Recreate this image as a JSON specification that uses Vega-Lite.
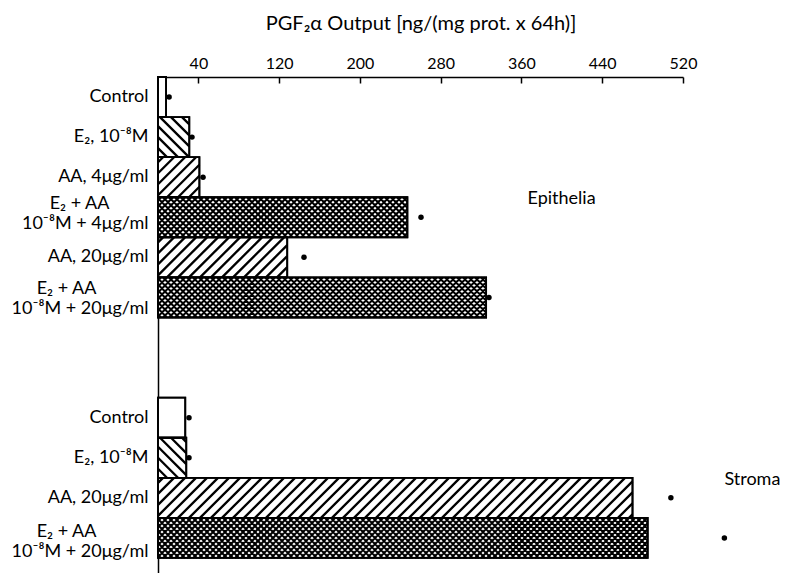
{
  "$schema": "https://vega.github.io/schema/vega-lite/v6.json",
  "width": 525,
  "height": 496,
  "autosize": {"type": "none"},
  "padding": {"left": 158, "top": 77, "right": 102, "bottom": 0},
  "background": "white",
  "config": {
    "view": {"stroke": null},
    "font": "Lato",
    "axis": {"grid": false, "domainColor": "black", "tickColor": "black", "labelColor": "black", "titleColor": "black"}
  },
  "datasets": {
    "bars": [
      {"id": "e1", "tissue": "Epithelia", "treatment": "Control", "value": 8, "dot": 11},
      {"id": "e2", "tissue": "Epithelia", "treatment": "E2 1e-8 M", "value": 31, "dot": 33.7},
      {"id": "e3", "tissue": "Epithelia", "treatment": "AA 4 ug/ml", "value": 41, "dot": 44.6},
      {"id": "e4", "tissue": "Epithelia", "treatment": "E2 + AA 4 ug/ml", "value": 247, "dot": 260.5},
      {"id": "e5", "tissue": "Epithelia", "treatment": "AA 20 ug/ml", "value": 128, "dot": 144.6},
      {"id": "e6", "tissue": "Epithelia", "treatment": "E2 + AA 20 ug/ml", "value": 325, "dot": 327.8},
      {"id": "s1", "tissue": "Stroma", "treatment": "Control", "value": 27, "dot": 30.7},
      {"id": "s2", "tissue": "Stroma", "treatment": "E2 1e-8 M", "value": 28, "dot": 30.7},
      {"id": "s3", "tissue": "Stroma", "treatment": "AA 20 ug/ml", "value": 470, "dot": 508},
      {"id": "s4", "tissue": "Stroma", "treatment": "E2 + AA 20 ug/ml", "value": 485, "dot": 561}
    ],
    "tissues": [
      {"name": "Epithelia", "x": 366, "id": "e4"},
      {"name": "Stroma", "x": 561, "id": "s3"}
    ]
  },
  "layer": [
    {
      "data": {"name": "bars"},
      "mark": {"type": "bar", "fill": "white", "stroke": "black", "strokeWidth": 1.8},
      "encoding": {
        "y": {
          "field": "id", "type": "nominal", "title": null,
          "scale": {"domain": ["e1", "e2", "e3", "e4", "e5", "e6", "g1", "g2", "s1", "s2", "s3", "s4"], "paddingInner": 0, "paddingOuter": 0.1875, "align": 0},
          "axis": {
            "ticks": false, "domainWidth": 1.5, "labelFontSize": 18, "labelPadding": 10, "labelLineHeight": 20, "labelLimit": 0,
            "labelOffset": {"condition": [{"test": "datum.value == 'e4'", "value": -13}, {"test": "datum.value == 'e6'", "value": -8}, {"test": "datum.value == 's4'", "value": -6}], "value": 0},
            "labelExpr": "datum.value == 'e1' || datum.value == 's1' ? 'Control' : datum.value == 'e2' || datum.value == 's2' ? 'E₂, 10⁻⁸M' : datum.value == 'e3' ? 'AA, 4μg/ml' : datum.value == 'e5' || datum.value == 's3' ? 'AA, 20μg/ml' : datum.value == 'e4' ? ['E₂ + AA\u2800\u2800\u2800', '10⁻⁸M + 4μg/ml'] : datum.value == 'e6' || datum.value == 's4' ? ['E₂ + AA\u2800\u2800\u2800\u2800', '10⁻⁸M + 20μg/ml'] : ''"
          }
        },
        "x": {
          "field": "value", "type": "quantitative", "title": "PGF₂α Output [ng/(mg prot. x 64h)]",
          "scale": {"domain": [0, 520], "nice": false},
          "axis": {"orient": "top", "values": [40, 120, 200, 280, 360, 440, 520], "tickSize": -6, "tickWidth": 1.5, "domainWidth": 1.5, "labelFontSize": 16, "labelPadding": 12, "labelFlush": false, "labelOverlap": false, "titleFontSize": 20, "titleFontWeight": "normal", "titlePadding": 22}
        }
      }
    },
    {
      "data": {"name": "bars"},
      "transform": [{"filter": {"field": "id", "oneOf": ["e2", "e3", "e4", "e5", "e6", "s2", "s3", "s4"]}}],
      "mark": {"type": "point", "filled": false, "size": 4, "stroke": "black", "color": "black", "opacity": 1},
      "encoding": {
        "x": {"datum": 0, "type": "quantitative"},
        "y": {"field": "id", "type": "nominal"},
        "strokeWidth": {"condition": {"test": "datum.id == 'e4' || datum.id == 'e6' || datum.id == 's4'", "value": 2.1}, "value": 2.3},
        "shape": {
          "field": "id", "type": "nominal", "legend": null,
          "scale": {
            "domain": ["e2", "e3", "e4", "e5", "e6", "s2", "s3", "s4"],
            "range": [
              "M0,11L9,20M0,0L20,20M0,-11L31,20M2,-20L31.3,9.3M13,-20L31.3,-1.7M24,-20L31.3,-12.7",
              "M5,-20L0,-15M16,-20L0,-4M27,-20L0,7M38,-20L0,18M41.4,-12.4L9,20M41.4,-1.4L20,20M41.4,9.6L31,20",
              "M3,-20L0,-17M9,-20L0,-11M15,-20L0,-5M21,-20L0,1M27,-20L0,7M33,-20L0,13M39,-20L0,19M45,-20l-40,40m46,-40l-40,40m46,-40l-40,40m46,-40l-40,40m46,-40l-40,40m46,-40l-40,40m46,-40l-40,40m46,-40l-40,40m46,-40l-40,40m46,-40l-40,40M105,-20l-40,40m46,-40l-40,40m46,-40l-40,40m46,-40l-40,40m46,-40l-40,40m46,-40l-40,40m46,-40l-40,40m46,-40l-40,40m46,-40l-40,40m46,-40l-40,40M165,-20l-40,40m46,-40l-40,40m46,-40l-40,40m46,-40l-40,40m46,-40l-40,40m46,-40l-40,40m46,-40l-40,40m46,-40l-40,40m46,-40l-40,40m46,-40l-40,40M225,-20l-40,40m46,-40l-40,40m46,-40l-40,40m46,-40l-40,40m46,-40l-40,40M249.4,-14.4L215,20M249.4,-8.4L221,20M249.4,-2.4L227,20M249.4,3.6L233,20M249.4,9.6L239,20M249.4,15.6L245,20M0,17L3,20M0,11L9,20M0,5L15,20M0,-1L21,20M0,-7L27,20M0,-13L33,20M0,-19L39,20M5,-20l40,40m-34,-40l40,40m-34,-40l40,40m-34,-40l40,40m-34,-40l40,40m-34,-40l40,40m-34,-40l40,40m-34,-40l40,40m-34,-40l40,40m-34,-40l40,40M65,-20l40,40m-34,-40l40,40m-34,-40l40,40m-34,-40l40,40m-34,-40l40,40m-34,-40l40,40m-34,-40l40,40m-34,-40l40,40m-34,-40l40,40m-34,-40l40,40M125,-20l40,40m-34,-40l40,40m-34,-40l40,40m-34,-40l40,40m-34,-40l40,40m-34,-40l40,40m-34,-40l40,40m-34,-40l40,40m-34,-40l40,40m-34,-40l40,40M185,-20l40,40m-34,-40l40,40m-34,-40l40,40m-34,-40l40,40m-34,-40l40,40M215,-20L249.4,14.4M221,-20L249.4,8.4M227,-20L249.4,2.4M233,-20L249.4,-3.6M239,-20L249.4,-9.6M245,-20L249.4,-15.6",
              "M5,-20L0,-15M16,-20L0,-4M27,-20L0,7M38,-20L0,18M49,-20l-40,40m51,-40l-40,40m51,-40l-40,40m51,-40l-40,40m51,-40l-40,40m51,-40l-40,40m51,-40l-40,40m51,-40l-40,40M129.2,-12.2L97,20M129.2,-1.2L108,20M129.2,9.8L119,20",
              "M3,-20L0,-17M9,-20L0,-11M15,-20L0,-5M21,-20L0,1M27,-20L0,7M33,-20L0,13M39,-20L0,19M45,-20l-40,40m46,-40l-40,40m46,-40l-40,40m46,-40l-40,40m46,-40l-40,40m46,-40l-40,40m46,-40l-40,40m46,-40l-40,40m46,-40l-40,40m46,-40l-40,40M105,-20l-40,40m46,-40l-40,40m46,-40l-40,40m46,-40l-40,40m46,-40l-40,40m46,-40l-40,40m46,-40l-40,40m46,-40l-40,40m46,-40l-40,40m46,-40l-40,40M165,-20l-40,40m46,-40l-40,40m46,-40l-40,40m46,-40l-40,40m46,-40l-40,40m46,-40l-40,40m46,-40l-40,40m46,-40l-40,40m46,-40l-40,40m46,-40l-40,40M225,-20l-40,40m46,-40l-40,40m46,-40l-40,40m46,-40l-40,40m46,-40l-40,40m46,-40l-40,40m46,-40l-40,40m46,-40l-40,40m46,-40l-40,40m46,-40l-40,40M285,-20l-40,40m46,-40l-40,40m46,-40l-40,40m46,-40l-40,40m46,-40l-40,40m46,-40l-40,40m46,-40l-40,40m46,-40l-40,40M328.1,-15.1L293,20M328.1,-9.1L299,20M328.1,-3.1L305,20M328.1,2.9L311,20M328.1,8.9L317,20M328.1,14.9L323,20M0,17L3,20M0,11L9,20M0,5L15,20M0,-1L21,20M0,-7L27,20M0,-13L33,20M0,-19L39,20M5,-20l40,40m-34,-40l40,40m-34,-40l40,40m-34,-40l40,40m-34,-40l40,40m-34,-40l40,40m-34,-40l40,40m-34,-40l40,40m-34,-40l40,40m-34,-40l40,40M65,-20l40,40m-34,-40l40,40m-34,-40l40,40m-34,-40l40,40m-34,-40l40,40m-34,-40l40,40m-34,-40l40,40m-34,-40l40,40m-34,-40l40,40m-34,-40l40,40M125,-20l40,40m-34,-40l40,40m-34,-40l40,40m-34,-40l40,40m-34,-40l40,40m-34,-40l40,40m-34,-40l40,40m-34,-40l40,40m-34,-40l40,40m-34,-40l40,40M185,-20l40,40m-34,-40l40,40m-34,-40l40,40m-34,-40l40,40m-34,-40l40,40m-34,-40l40,40m-34,-40l40,40m-34,-40l40,40m-34,-40l40,40m-34,-40l40,40M245,-20l40,40m-34,-40l40,40m-34,-40l40,40m-34,-40l40,40m-34,-40l40,40m-34,-40l40,40m-34,-40l40,40m-34,-40l40,40M293,-20L328.1,15.1M299,-20L328.1,9.1M305,-20L328.1,3.1M311,-20L328.1,-2.9M317,-20L328.1,-8.9M323,-20L328.1,-14.9",
              "M0,11L9,20M0,0L20,20M0,-11L28.3,17.3M2,-20L28.3,6.3M13,-20L28.3,-4.7M24,-20L28.3,-15.7",
              "M5,-20L0,-15M16,-20L0,-4M27,-20L0,7M38,-20L0,18M49,-20l-40,40m51,-40l-40,40m51,-40l-40,40m51,-40l-40,40m51,-40l-40,40m51,-40l-40,40m51,-40l-40,40m51,-40l-40,40m51,-40l-40,40m51,-40l-40,40M159,-20l-40,40m51,-40l-40,40m51,-40l-40,40m51,-40l-40,40m51,-40l-40,40m51,-40l-40,40m51,-40l-40,40m51,-40l-40,40m51,-40l-40,40m51,-40l-40,40M269,-20l-40,40m51,-40l-40,40m51,-40l-40,40m51,-40l-40,40m51,-40l-40,40m51,-40l-40,40m51,-40l-40,40m51,-40l-40,40m51,-40l-40,40m51,-40l-40,40M379,-20l-40,40m51,-40l-40,40m51,-40l-40,40m51,-40l-40,40m51,-40l-40,40m51,-40l-40,40m51,-40l-40,40m51,-40l-40,40m51,-40l-40,40M474.5,-16.5L438,20M474.5,-5.5L449,20M474.5,5.5L460,20M474.5,16.5L471,20",
              "M3,-20L0,-17M9,-20L0,-11M15,-20L0,-5M21,-20L0,1M27,-20L0,7M33,-20L0,13M39,-20L0,19M45,-20l-40,40m46,-40l-40,40m46,-40l-40,40m46,-40l-40,40m46,-40l-40,40m46,-40l-40,40m46,-40l-40,40m46,-40l-40,40m46,-40l-40,40m46,-40l-40,40M105,-20l-40,40m46,-40l-40,40m46,-40l-40,40m46,-40l-40,40m46,-40l-40,40m46,-40l-40,40m46,-40l-40,40m46,-40l-40,40m46,-40l-40,40m46,-40l-40,40M165,-20l-40,40m46,-40l-40,40m46,-40l-40,40m46,-40l-40,40m46,-40l-40,40m46,-40l-40,40m46,-40l-40,40m46,-40l-40,40m46,-40l-40,40m46,-40l-40,40M225,-20l-40,40m46,-40l-40,40m46,-40l-40,40m46,-40l-40,40m46,-40l-40,40m46,-40l-40,40m46,-40l-40,40m46,-40l-40,40m46,-40l-40,40m46,-40l-40,40M285,-20l-40,40m46,-40l-40,40m46,-40l-40,40m46,-40l-40,40m46,-40l-40,40m46,-40l-40,40m46,-40l-40,40m46,-40l-40,40m46,-40l-40,40m46,-40l-40,40M345,-20l-40,40m46,-40l-40,40m46,-40l-40,40m46,-40l-40,40m46,-40l-40,40m46,-40l-40,40m46,-40l-40,40m46,-40l-40,40m46,-40l-40,40m46,-40l-40,40M405,-20l-40,40m46,-40l-40,40m46,-40l-40,40m46,-40l-40,40m46,-40l-40,40m46,-40l-40,40m46,-40l-40,40m46,-40l-40,40m46,-40l-40,40m46,-40l-40,40M465,-20l-40,40m46,-40l-40,40m46,-40l-40,40m46,-40l-40,40m46,-40l-40,40M489.7,-14.7L455,20M489.7,-8.7L461,20M489.7,-2.7L467,20M489.7,3.3L473,20M489.7,9.3L479,20M489.7,15.3L485,20M0,17L3,20M0,11L9,20M0,5L15,20M0,-1L21,20M0,-7L27,20M0,-13L33,20M0,-19L39,20M5,-20l40,40m-34,-40l40,40m-34,-40l40,40m-34,-40l40,40m-34,-40l40,40m-34,-40l40,40m-34,-40l40,40m-34,-40l40,40m-34,-40l40,40m-34,-40l40,40M65,-20l40,40m-34,-40l40,40m-34,-40l40,40m-34,-40l40,40m-34,-40l40,40m-34,-40l40,40m-34,-40l40,40m-34,-40l40,40m-34,-40l40,40m-34,-40l40,40M125,-20l40,40m-34,-40l40,40m-34,-40l40,40m-34,-40l40,40m-34,-40l40,40m-34,-40l40,40m-34,-40l40,40m-34,-40l40,40m-34,-40l40,40m-34,-40l40,40M185,-20l40,40m-34,-40l40,40m-34,-40l40,40m-34,-40l40,40m-34,-40l40,40m-34,-40l40,40m-34,-40l40,40m-34,-40l40,40m-34,-40l40,40m-34,-40l40,40M245,-20l40,40m-34,-40l40,40m-34,-40l40,40m-34,-40l40,40m-34,-40l40,40m-34,-40l40,40m-34,-40l40,40m-34,-40l40,40m-34,-40l40,40m-34,-40l40,40M305,-20l40,40m-34,-40l40,40m-34,-40l40,40m-34,-40l40,40m-34,-40l40,40m-34,-40l40,40m-34,-40l40,40m-34,-40l40,40m-34,-40l40,40m-34,-40l40,40M365,-20l40,40m-34,-40l40,40m-34,-40l40,40m-34,-40l40,40m-34,-40l40,40m-34,-40l40,40m-34,-40l40,40m-34,-40l40,40m-34,-40l40,40m-34,-40l40,40M425,-20l40,40m-34,-40l40,40m-34,-40l40,40m-34,-40l40,40m-34,-40l40,40M455,-20L489.7,14.7M461,-20L489.7,8.7M467,-20L489.7,2.7M473,-20L489.7,-3.3M479,-20L489.7,-9.3M485,-20L489.7,-15.3"
            ]
          }
        }
      }
    },
    {
      "data": {"name": "bars"},
      "mark": {"type": "bar", "fillOpacity": 0, "stroke": "black", "strokeWidth": 1.8},
      "encoding": {
        "y": {"field": "id", "type": "nominal"},
        "x": {"field": "value", "type": "quantitative", "title": "PGF₂α Output [ng/(mg prot. x 64h)]"}
      }
    },
    {
      "data": {"name": "bars"},
      "mark": {"type": "point", "filled": true, "size": 30, "color": "black", "opacity": 1},
      "encoding": {
        "y": {"field": "id", "type": "nominal"},
        "x": {"field": "dot", "type": "quantitative", "title": "PGF₂α Output [ng/(mg prot. x 64h)]"}
      }
    },
    {
      "data": {"name": "tissues"},
      "mark": {"type": "text", "align": "left", "baseline": "middle", "fontSize": 18, "dy": -18, "color": "black"},
      "encoding": {
        "y": {"field": "id", "type": "nominal"},
        "x": {"field": "x", "type": "quantitative", "title": "PGF₂α Output [ng/(mg prot. x 64h)]"},
        "text": {"field": "name"}
      }
    }
  ]
}
